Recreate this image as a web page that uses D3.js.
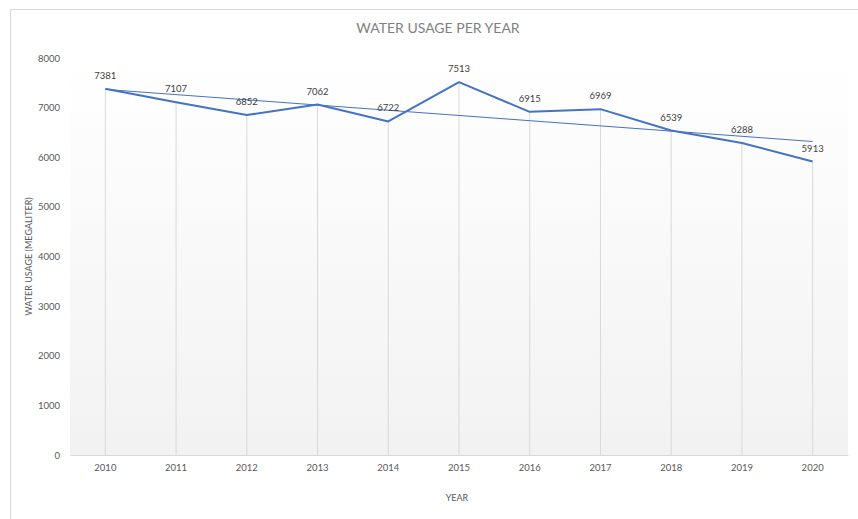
<!DOCTYPE html>
<html lang="en">
<head>
<meta charset="UTF-8">
<title>Water usage per year</title>
<style>
    body { margin: 0; background: #fff; }
    svg { display: block; font-family: Lato, "Open Sans", sans-serif; }
</style>
<script src="https://cdn.jsdelivr.net/npm/d3@7"></script>
</head>
<body>
<script>
    // data
    const years = ["2010", "2011", "2012", "2013", "2014", "2015", "2016", "2017", "2018", "2019", "2020"];
    const usage = [7381, 7107, 6852, 7062, 6722, 7513, 6915, 6969, 6539, 6288, 5913];
    const yTicks = [0, 1000, 2000, 3000, 4000, 5000, 6000, 7000, 8000];

    const W = 858, H = 519;
    const plot = { left: 70, right: 848, top: 58, bottom: 455 };

    const svg = d3.select("body").append("svg")
        .attr("width", W)
        .attr("height", H);

    // chart frame
    svg.append("rect")
        .attr("x", 10.5).attr("y", 9.5)
        .attr("width", W).attr("height", H)
        .attr("fill", "#fff")
        .attr("stroke", "#d9d9d9");

    // plot area gradient (white -> light grey)
    const grad = svg.append("defs").append("linearGradient")
        .attr("id", "bg").attr("x1", 0).attr("y1", 0).attr("x2", 0).attr("y2", 1);
    grad.append("stop").attr("offset", "0%").attr("stop-color", "#ffffff");
    grad.append("stop").attr("offset", "100%").attr("stop-color", "#f2f2f2");

    svg.append("rect")
        .attr("x", plot.left).attr("y", plot.top)
        .attr("width", plot.right - plot.left)
        .attr("height", plot.bottom - plot.top)
        .attr("fill", "url(#bg)");

    const x = d3.scaleBand().domain(years).range([plot.left, plot.right]);
    const y = d3.scaleLinear().domain([0, 8000]).range([plot.bottom, plot.top]);
    const cx = d => x(d) + x.bandwidth() / 2;

    // x axis
    const xAxis = svg.append("g")
        .attr("transform", `translate(0,${plot.bottom})`)
        .call(d3.axisBottom(x).tickSize(0).tickPadding(9));
    xAxis.select(".domain").attr("stroke", "#d9d9d9");
    xAxis.selectAll("text").attr("fill", "#595959").style("font-size", "9.5px").style("font-family", "Lato, sans-serif");

    // y axis, no line
    const yAxis = svg.append("g")
        .attr("transform", `translate(${plot.left - 10},0)`)
        .call(d3.axisLeft(y).tickValues(yTicks).tickSize(0).tickPadding(0).tickFormat(d3.format("d")));
    yAxis.select(".domain").remove();
    yAxis.selectAll("text").attr("fill", "#595959").style("font-size", "9.5px").style("font-family", "Lato, sans-serif");

    // drop lines from each point down to the axis
    svg.append("g").selectAll("line")
        .data(years)
        .join("line")
        .attr("x1", d => cx(d)).attr("x2", d => cx(d))
        .attr("y1", (d, i) => y(usage[i]))
        .attr("y2", plot.bottom)
        .attr("stroke", "#d9d9d9")
        .attr("stroke-width", 1);

    // linear trendline (least squares over the series)
    const idx = usage.map((v, i) => i);
    const mx = d3.mean(idx), my = d3.mean(usage);
    const slope = d3.sum(idx, i => (i - mx) * (usage[i] - my)) / d3.sum(idx, i => (i - mx) * (i - mx));
    const icpt = my - slope * mx;
    const last = years.length - 1;
    svg.append("line")
        .attr("x1", cx(years[0])).attr("y1", y(icpt))
        .attr("x2", cx(years[last])).attr("y2", y(icpt + slope * last))
        .attr("stroke", "#4472c4")
        .attr("stroke-width", 1);

    // main series
    const line = d3.line()
        .x((d, i) => cx(years[i]))
        .y(d => y(d));
    svg.append("path")
        .datum(usage)
        .attr("d", line)
        .attr("fill", "none")
        .attr("stroke", "#4472c4")
        .attr("stroke-width", 2)
        .attr("stroke-linejoin", "round");

    // data labels
    svg.append("g").selectAll("text")
        .data(usage)
        .join("text")
        .attr("x", (d, i) => cx(years[i]))
        .attr("y", d => y(d) - 10)
        .attr("text-anchor", "middle")
        .attr("fill", "#404040")
        .style("font-size", "9.5px")
        .text(d => d);

    // titles
    svg.append("text")
        .attr("x", 438).attr("y", 33)
        .attr("text-anchor", "middle")
        .attr("fill", "#7f7f7f")
        .style("font-size", "14px")
        .text("WATER USAGE PER YEAR");

    svg.append("text")
        .attr("transform", `translate(32,${(plot.top + plot.bottom) / 2}) rotate(-90)`)
        .attr("text-anchor", "middle")
        .attr("fill", "#595959")
        .style("font-size", "9px")
        .text("WATER USAGE (MEGALITER)");

    svg.append("text")
        .attr("x", (plot.left + plot.right) / 2 - 2).attr("y", 501)
        .attr("text-anchor", "middle")
        .attr("fill", "#595959")
        .style("font-size", "9px")
        .text("YEAR");
</script>
</body>
</html>
